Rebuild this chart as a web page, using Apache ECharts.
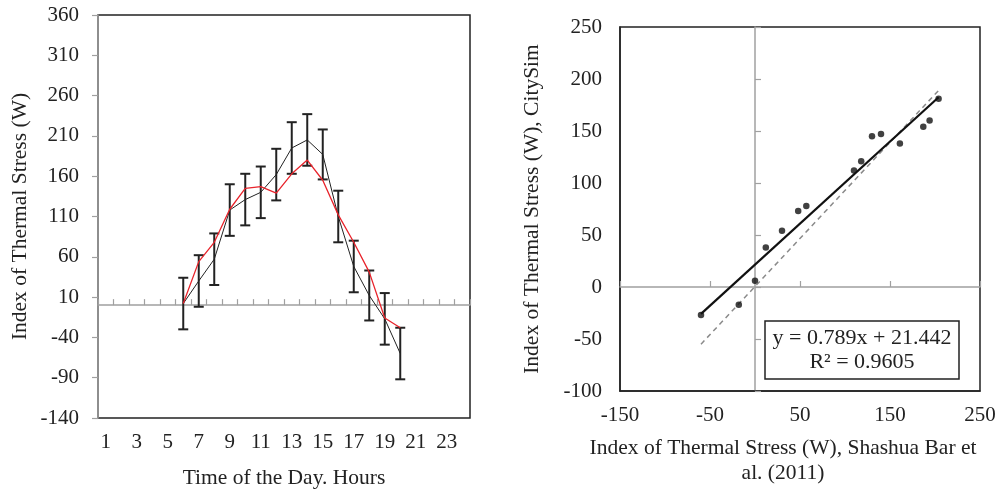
<!DOCTYPE html>
<html>
<head>
<meta charset="utf-8">
<script src="https://cdn.jsdelivr.net/npm/echarts@6/dist/echarts.min.js"></script>
<style>
  html, body { margin: 0; padding: 0; background: #fff; }
  #main { width: 999px; height: 489px; }
</style>
</head>
<body>
<div id="main"></div>
<script>
// left chart: index of thermal stress over the day
const hourCats = ['1','2','3','4','5','6','7','8','9','10','11','12','13','14','15','16','17','18','19','20','21','22','23','24'];
const hours = ['6','7','8','9','10','11','12','13','14','15','16','17','18','19','20'];
const measured = [2, 30, 57, 118, 131, 140, 162, 195, 205, 187, 110, 48, 12, -17, -60];
const measuredErr = [32, 32, 32, 32, 32, 32, 32, 32, 32, 31, 32, 32, 31, 32, 32];
const simulated = [2, 54, 78, 119, 145, 147, 139, 163, 180, 155, 112, 78, 41, -16, -28];

// right chart: CitySim vs Shashua Bar et al. (2011)
const refX = [-60, -18, 0, 12, 30, 48, 57, 110, 118, 130, 140, 161, 187, 194, 204];
const simY = [-27, -17, 6, 38, 54, 73, 78, 112, 121, 145, 147, 138, 154, 160, 181];
const fitSlope = 0.789;
const fitIntercept = 21.442;
const dashedLine = [[-60, -55], [204, 189]];
const fitText = 'y = 0.789x + 21.442\nR\u00b2 = 0.9605';

const FONT = 'Liberation Serif';
const INK = '#222';
const GREY = '#a0a0a0';

const chart = echarts.init(document.getElementById('main'));

const xMin = Math.min.apply(null, refX), xMax = Math.max.apply(null, refX);
const fitLine = [[xMin, fitSlope * xMin + fitIntercept], [xMax, fitSlope * xMax + fitIntercept]];

const option = {
  animation: false,
  textStyle: { fontFamily: FONT, color: INK },
  grid: [
    { left: 98, right: 529, top: 15, bottom: 71, show: true, borderColor: INK, borderWidth: 1.5, outerBoundsMode: 'none', containLabel: false },
    { left: 620, right: 19, top: 27, bottom: 98, show: true, borderColor: INK, borderWidth: 1.5, outerBoundsMode: 'none', containLabel: false }
  ],
  xAxis: [
    { // left, labels at the bottom
      type: 'category', gridIndex: 0, data: hourCats, position: 'bottom',
      axisLine: { show: false, onZero: false }, axisTick: { show: false },
      axisLabel: { interval: 1, fontSize: 21, color: INK, margin: 14, fontFamily: FONT },
      name: 'Time of the Day. Hours', nameLocation: 'middle', nameGap: 49,
      nameTextStyle: { fontSize: 21.5, color: INK, fontFamily: FONT }
    },
    { // left, grey line at zero
      type: 'category', gridIndex: 0, data: hourCats,
      axisLine: { show: true, onZero: true, onZeroAxisIndex: 0, lineStyle: { color: GREY, width: 1.5 } },
      axisTick: { show: true, interval: 0, length: 6, lineStyle: { color: GREY, width: 1.2 } },
      axisLabel: { show: false }
    },
    { // right, labels at bottom
      type: 'value', gridIndex: 1, min: -150, max: 250, interval: 100, position: 'bottom',
      axisLine: { show: true, onZero: false, lineStyle: { color: INK, width: 1.5 } },
      axisTick: { show: false }, splitLine: { show: false },
      axisLabel: { fontSize: 21, color: INK, margin: 14, fontFamily: FONT },
      name: 'Index of Thermal Stress (W), Shashua Bar et\nal. (2011)', nameLocation: 'middle', nameGap: 45,
      nameTextStyle: { fontSize: 21.5, color: INK, fontFamily: FONT, lineHeight: 25, padding: [0, 34, 0, 0] }
    },
    { // right, grey line at zero
      type: 'value', gridIndex: 1, min: -150, max: 250, interval: 100,
      axisLine: { show: true, onZero: true, onZeroAxisIndex: 1, lineStyle: { color: GREY, width: 1.5 } },
      axisTick: { show: true, length: 6, lineStyle: { color: GREY, width: 1.2 } },
      axisLabel: { show: false }, splitLine: { show: false }
    }
  ],
  yAxis: [
    {
      type: 'value', gridIndex: 0, min: -140, max: 360, interval: 50,
      axisLine: { show: true, onZero: false, lineStyle: { color: GREY, width: 1.5 } },
      axisTick: { show: true, length: 6, lineStyle: { color: GREY, width: 1.2 } },
      splitLine: { show: false },
      axisLabel: { fontSize: 21, color: INK, margin: 19, fontFamily: FONT },
      name: 'Index of Thermal Stress (W)', nameLocation: 'middle', nameGap: 67,
      nameTextStyle: { fontSize: 21.5, color: INK, fontFamily: FONT }
    },
    {
      type: 'value', gridIndex: 1, min: -100, max: 250, interval: 50,
      axisLine: { show: true, onZero: false, lineStyle: { color: INK, width: 1.5 } },
      axisTick: { show: false }, splitLine: { show: false },
      axisLabel: { fontSize: 21, color: INK, margin: 18, fontFamily: FONT },
      name: 'Index of Thermal Stress (W), CitySim', nameLocation: 'middle', nameGap: 77,
      nameTextStyle: { fontSize: 21.5, color: INK, fontFamily: FONT }
    },
    {
      type: 'value', gridIndex: 1, min: -100, max: 250, interval: 50,
      axisLine: { show: true, onZero: true, onZeroAxisIndex: 2, lineStyle: { color: GREY, width: 1.5 } },
      axisTick: { show: true, length: 6, lineStyle: { color: GREY, width: 1.2 } },
      axisLabel: { show: false }, splitLine: { show: false }
    }
  ],
  series: [
    {
      name: 'errors', type: 'custom', xAxisIndex: 0, yAxisIndex: 0, z: 3,
      data: hours.map((h, i) => [h, measured[i] - measuredErr[i], measured[i] + measuredErr[i]]),
      renderItem: function (params, api) {
        const x = api.value(0);
        const lo = api.coord([x, api.value(1)]);
        const hi = api.coord([x, api.value(2)]);
        const w = 5;
        const st = { stroke: INK, lineWidth: 2, fill: null };
        return {
          type: 'group',
          children: [
            { type: 'line', shape: { x1: hi[0], y1: hi[1], x2: lo[0], y2: lo[1] }, style: st },
            { type: 'line', shape: { x1: hi[0] - w, y1: hi[1], x2: hi[0] + w, y2: hi[1] }, style: st },
            { type: 'line', shape: { x1: lo[0] - w, y1: lo[1], x2: lo[0] + w, y2: lo[1] }, style: st }
          ]
        };
      }
    },
    {
      name: 'measured', type: 'line', xAxisIndex: 0, yAxisIndex: 0, showSymbol: false, z: 4,
      data: hours.map((h, i) => [h, measured[i]]),
      lineStyle: { color: INK, width: 1 }
    },
    {
      name: 'simulated', type: 'line', xAxisIndex: 0, yAxisIndex: 0, showSymbol: false, z: 5,
      data: hours.map((h, i) => [h, simulated[i]]),
      lineStyle: { color: '#e8232b', width: 1.3 }
    },
    {
      name: 'one to one', type: 'line', xAxisIndex: 2, yAxisIndex: 1, showSymbol: false, z: 3,
      data: dashedLine,
      lineStyle: { color: '#8a8a8a', width: 1.5, type: [5, 4] }
    },
    {
      name: 'fit', type: 'line', xAxisIndex: 2, yAxisIndex: 1, showSymbol: false, z: 4,
      data: fitLine,
      lineStyle: { color: '#111', width: 2.2 }
    },
    {
      name: 'points', type: 'scatter', xAxisIndex: 2, yAxisIndex: 1, z: 5,
      symbolSize: 6.5,
      data: refX.map((x, i) => [x, simY[i]]),
      itemStyle: { color: '#111' }
    }
  ],
  graphic: [
    {
      type: 'rect', z: 10,
      shape: { x: 765, y: 321, width: 194, height: 58 },
      style: { fill: '#fff', stroke: INK, lineWidth: 1.5 }
    },
    {
      type: 'text', z: 11, x: 862, y: 350,
      style: {
        text: fitText, align: 'center', verticalAlign: 'middle',
        font: '22px "Liberation Serif"', lineHeight: 24, fill: INK
      }
    }
  ]
};

chart.setOption(option);
</script>
</body>
</html>
